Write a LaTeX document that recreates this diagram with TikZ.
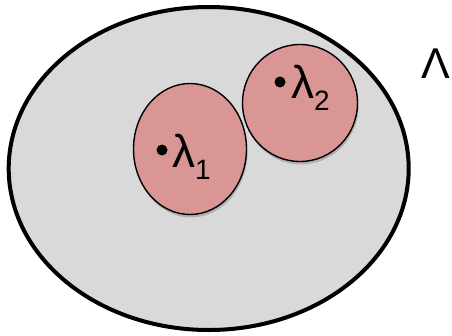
\documentclass[tikz,border=0pt]{standalone}
\usepackage{fontspec}
\setmainfont{Liberation Sans}
\usetikzlibrary{shapes.geometric,shadows}
\definecolor{bigfill}{HTML}{D9D9D9}
\definecolor{pinkfill}{HTML}{DA9694}
\begin{document}
\begin{tikzpicture}[x=1pt,y=-1pt,
  region/.style={ellipse, draw=black, line width=4pt, fill=bigfill, inner sep=0pt},
  subregion/.style={ellipse, draw=black, line width=1.4pt, fill=pinkfill, inner sep=0pt,
    drop shadow={shadow xshift=1pt, shadow yshift=-3pt, opacity=0.35, fill=black!60}},
  pt/.style={circle, fill=black, inner sep=0pt, minimum size=11pt},
  lab/.style={inner sep=0pt, anchor=base west, font=\fontsize{46}{46}\selectfont},
  bigl/.style={inner sep=0pt, anchor=base west, font=\fontsize{43}{43}\selectfont}]
\useasboundingbox (0,0) rectangle (452,335);
\node[region, minimum width=400pt, minimum height=323pt] (L) at (208.7,168.5) {};
\node[subregion, minimum width=113pt, minimum height=131pt] (R1) at (190,149) {};
\node[subregion, minimum width=115pt, minimum height=117pt] (R2) at (300,103) {};
\node[pt] (p1) at (162,150) {};
\node[pt] (p2) at (280,82) {};
\node[lab] (l1) at (172,167) {λ\raisebox{-0.27em}{\fontsize{28}{28}\selectfont 1}};
\node[lab] (l2) at (291,98) {λ\raisebox{-0.27em}{\fontsize{28}{28}\selectfont 2}};
\node[bigl] (Lam) at (421,78) {Λ};
\end{tikzpicture}
\end{document}
